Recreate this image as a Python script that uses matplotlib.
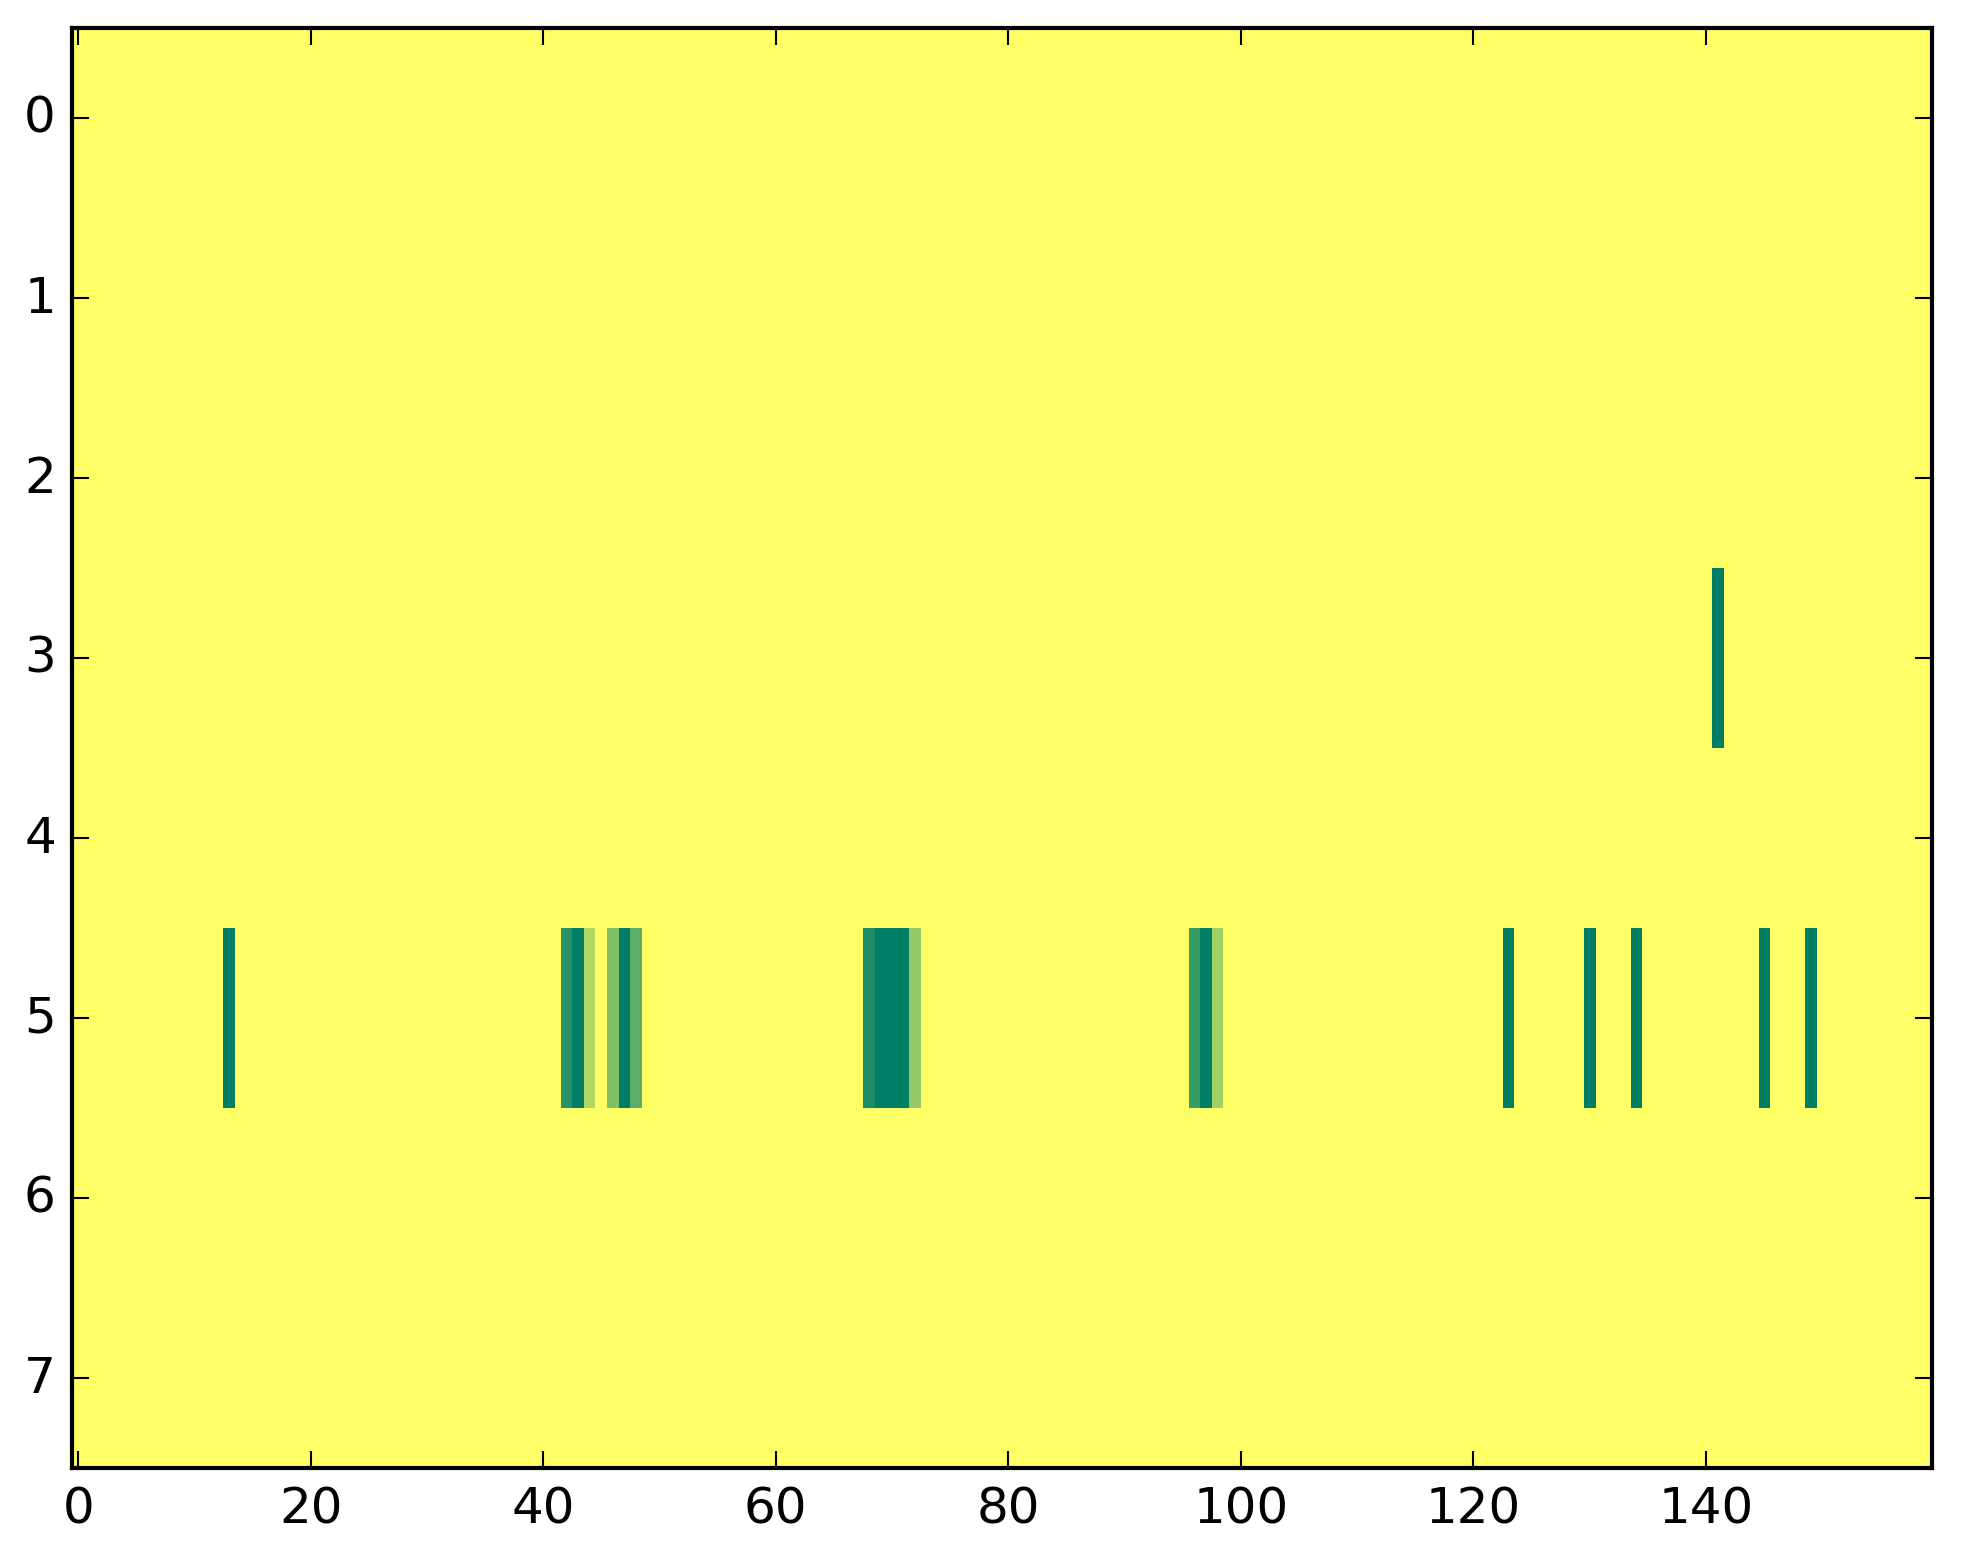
import numpy as np
import matplotlib
matplotlib.use('Agg')
import matplotlib.pyplot as plt

plt.style.use('classic')

# grid size: 8 rows x 160 columns, mostly zero
N_ROWS = 8
N_COLS = 160

# non-zero cells (value 1 = darkest green)
row5_cols = [13, 42, 43, 44, 46, 47, 48, 68, 69, 70, 71, 72, 96, 97, 98,
             123, 130, 134, 145, 149]
row5_vals = [1.0, 0.85, 1.0, 0.31, 0.50, 1.0, 0.64, 0.89, 1.0, 1.0, 1.0, 0.42,
             0.77, 1.0, 0.37, 1.0, 1.0, 1.0, 1.0, 1.0]
row3_cols = [141]
row3_vals = [1.0]

mat = np.zeros((N_ROWS, N_COLS))
mat[5, row5_cols] = row5_vals
mat[3, row3_cols] = row3_vals

W, H, DPI = 1963, 1564, 300
fig = plt.figure(figsize=(W / DPI, H / DPI), dpi=DPI)
ax = fig.add_axes([0.03693, 0.06106, 0.94753, 0.92059])
ax.imshow(mat, cmap='summer_r', vmin=0, vmax=1, aspect='auto',
          interpolation='nearest')
ax.set_xticks(np.arange(0, 141, 20))
ax.set_yticks(np.arange(0, N_ROWS))
ax.set_xlim(-0.5, N_COLS - 0.5)
ax.set_ylim(N_ROWS - 0.5, -0.5)

fig.savefig('out.png', dpi=DPI)
